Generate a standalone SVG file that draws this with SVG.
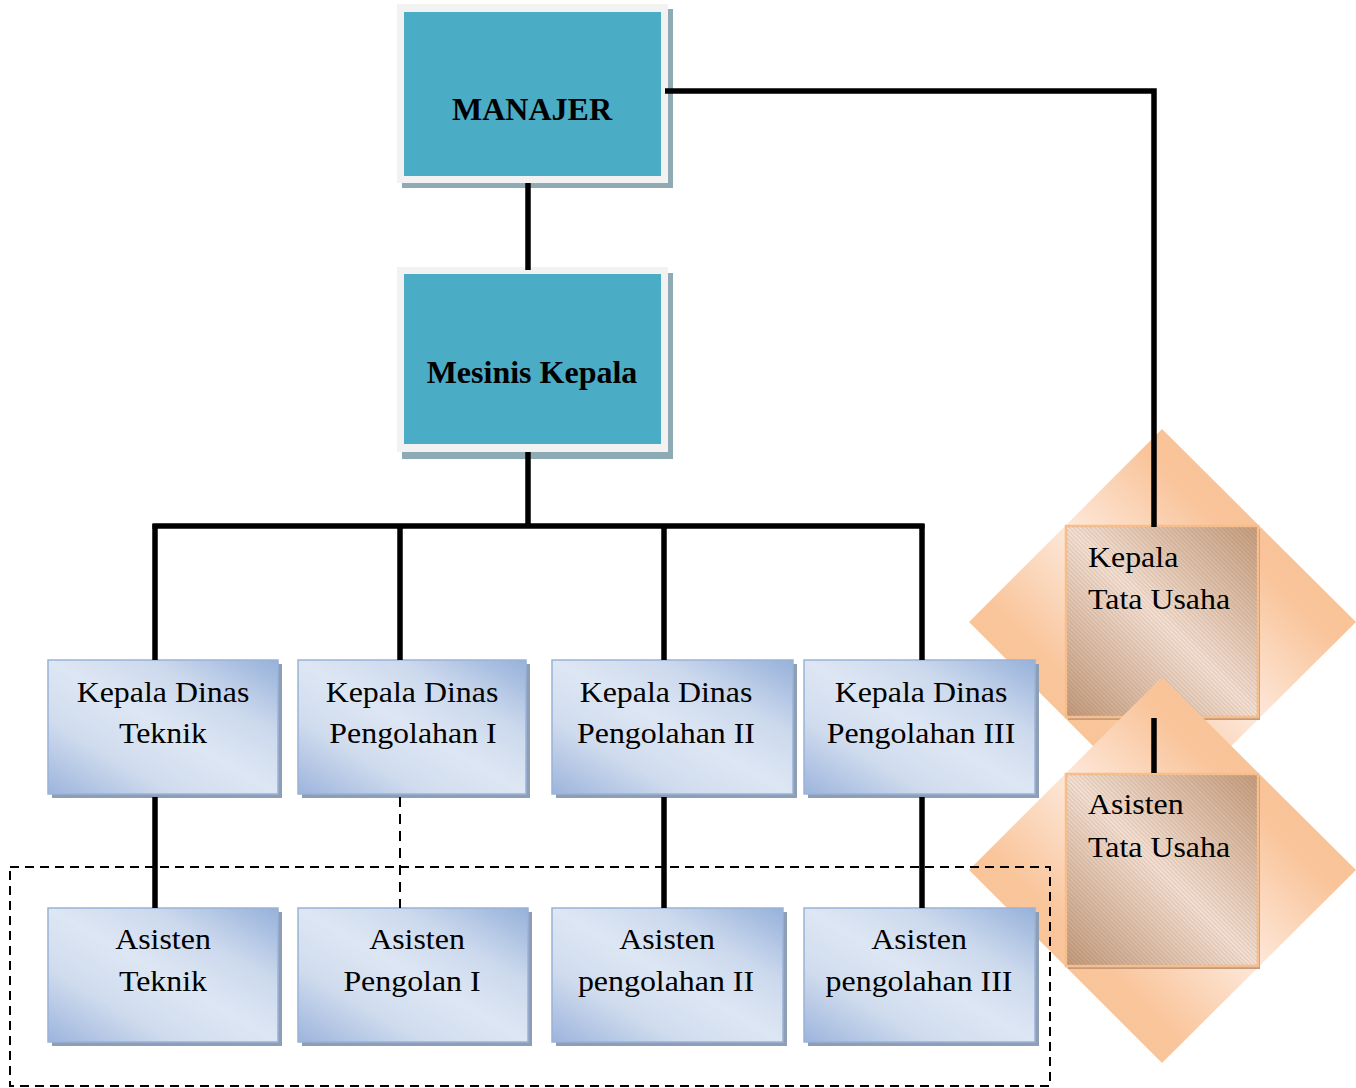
<svg xmlns="http://www.w3.org/2000/svg" width="1356" height="1088" viewBox="0 0 1356 1088">
<style>
.t{font-family:"Liberation Serif","Times New Roman",serif;font-size:29px;fill:#000}
.c{text-anchor:middle}
.b{font-family:"Liberation Serif","Times New Roman",serif;font-size:32px;font-weight:bold;text-anchor:middle;fill:#000}
.frame{fill:#f2f2f2}
.tealsh{fill:#8eabb5}
.teal{fill:#4bacc6}
.bsh{fill:#8e9eb5}
.box{fill:url(#blue);stroke:#9ab3d8;stroke-width:1.5}
.dia{fill:url(#peach)}
.sqsh{fill:#c59b7c}
.sq{fill:url(#tan);stroke:#f7be8d;stroke-width:2.5}
.hatch{fill:url(#lines)}
.ln{stroke:#000;stroke-width:5.5;fill:none}
.dash{stroke:#000;stroke-width:2;fill:none;stroke-dasharray:9 6}
</style>
<defs>
<linearGradient id="blue" x1="0" y1="1" x2="1" y2="0">
<stop offset="0" stop-color="#9cb4dc"/>
<stop offset="0.28" stop-color="#d0dcee"/>
<stop offset="0.5" stop-color="#dde6f3"/>
<stop offset="0.72" stop-color="#ccd9ed"/>
<stop offset="1" stop-color="#96b1da"/>
</linearGradient>
<linearGradient id="peach" x1="1" y1="0" x2="0" y2="1">
<stop offset="0" stop-color="#f8bf8c"/>
<stop offset="0.3" stop-color="#f9c49a"/>
<stop offset="0.5" stop-color="#fde8da"/>
<stop offset="0.7" stop-color="#f9c59b"/>
<stop offset="1" stop-color="#f8bf8c"/>
</linearGradient>
<linearGradient id="tan" x1="1" y1="0" x2="0" y2="1">
<stop offset="0" stop-color="#c9a07f"/>
<stop offset="0.5" stop-color="#fbe7da"/>
<stop offset="1" stop-color="#c69d7d"/>
</linearGradient>
<pattern id="lines" patternUnits="userSpaceOnUse" width="3" height="3" patternTransform="rotate(45)">
<line x1="0" y1="1" x2="3" y2="1" stroke="#6e4f3c" stroke-width="0.6" stroke-opacity="0.5"/>
</pattern>
</defs>

<g id="kepala-tata-usaha">
<polygon class="dia" points="1162,429 1356,622 1162,815 969,622"/>
<rect class="sqsh" x="1068" y="529" width="192" height="191"/>
<rect class="sq" x="1066" y="526" width="192" height="191"/>
<rect class="hatch" x="1067" y="527" width="190" height="189"/>
<text class="t" transform="translate(1088 567) scale(1.1 1)">Kepala</text>
<text class="t" transform="translate(1088 609) scale(1.1 1)">Tata Usaha</text>
</g>
<g id="asisten-tata-usaha">
<polygon class="dia" points="1162,677 1356,870 1162,1063 969,870"/>
<rect class="sqsh" x="1068" y="777" width="192" height="192"/>
<rect class="sq" x="1066" y="774" width="192" height="192"/>
<rect class="hatch" x="1067" y="775" width="190" height="190"/>
<text class="t" transform="translate(1088 814) scale(1.1 1)">Asisten</text>
<text class="t" transform="translate(1088 857) scale(1.1 1)">Tata Usaha</text>
</g>

<g id="manajer">
<rect class="tealsh" x="402" y="9" width="271" height="179"/>
<rect class="frame" x="397" y="4" width="271" height="179"/>
<rect class="teal" x="404" y="12" width="257" height="164"/>
<text class="b" x="532" y="120">MANAJER</text>
</g>
<g id="mesinis-kepala">
<rect class="tealsh" x="402" y="273" width="271" height="186"/>
<rect class="frame" x="397" y="267" width="271" height="185"/>
<rect class="teal" x="404" y="274" width="257" height="170"/>
<text class="b" x="532" y="383">Mesinis Kepala</text>
</g>

<g id="kepala-dinas-teknik">
<rect class="bsh" x="52" y="664" width="230" height="134"/>
<rect class="box" x="48" y="660" width="230" height="134"/>
<text class="t c" transform="translate(163 702) scale(1.1 1)">Kepala Dinas</text>
<text class="t c" transform="translate(163 743) scale(1.1 1)">Teknik</text>
</g>
<g id="kepala-dinas-pengolahan-1">
<rect class="bsh" x="302" y="664" width="228" height="134"/>
<rect class="box" x="298" y="660" width="228" height="134"/>
<text class="t c" transform="translate(412 702) scale(1.1 1)">Kepala Dinas</text>
<text class="t c" transform="translate(413 743) scale(1.1 1)">Pengolahan I</text>
</g>
<g id="kepala-dinas-pengolahan-2">
<rect class="bsh" x="556" y="664" width="241" height="134"/>
<rect class="box" x="552" y="660" width="241" height="134"/>
<text class="t c" transform="translate(666 702) scale(1.1 1)">Kepala Dinas</text>
<text class="t c" transform="translate(666 743) scale(1.1 1)">Pengolahan II</text>
</g>
<g id="kepala-dinas-pengolahan-3">
<rect class="bsh" x="808" y="664" width="231" height="134"/>
<rect class="box" x="804" y="660" width="231" height="134"/>
<text class="t c" transform="translate(921 702) scale(1.1 1)">Kepala Dinas</text>
<text class="t c" transform="translate(921 743) scale(1.1 1)">Pengolahan III</text>
</g>

<g id="asisten-teknik">
<rect class="bsh" x="52" y="912" width="230" height="134"/>
<rect class="box" x="48" y="908" width="230" height="134"/>
<text class="t c" transform="translate(163 949) scale(1.1 1)">Asisten</text>
<text class="t c" transform="translate(163 991) scale(1.1 1)">Teknik</text>
</g>
<g id="asisten-pengolan-1">
<rect class="bsh" x="302" y="912" width="230" height="134"/>
<rect class="box" x="298" y="908" width="230" height="134"/>
<text class="t c" transform="translate(417 949) scale(1.1 1)">Asisten</text>
<text class="t c" transform="translate(412 991) scale(1.1 1)">Pengolan I</text>
</g>
<g id="asisten-pengolahan-2">
<rect class="bsh" x="556" y="912" width="231" height="134"/>
<rect class="box" x="552" y="908" width="231" height="134"/>
<text class="t c" transform="translate(667 949) scale(1.1 1)">Asisten</text>
<text class="t c" transform="translate(666 991) scale(1.1 1)">pengolahan II</text>
</g>
<g id="asisten-pengolahan-3">
<rect class="bsh" x="808" y="912" width="231" height="134"/>
<rect class="box" x="804" y="908" width="231" height="134"/>
<text class="t c" transform="translate(919 949) scale(1.1 1)">Asisten</text>
<text class="t c" transform="translate(919 991) scale(1.1 1)">pengolahan III</text>
</g>

<g id="connectors">
<polyline class="ln" points="665,91 1154,91 1154,527"/>
<line class="ln" x1="528" y1="183" x2="528" y2="270"/>
<line class="ln" x1="528" y1="452" x2="528" y2="526"/>
<line class="ln" x1="152.5" y1="526" x2="924.5" y2="526"/>
<line class="ln" x1="155" y1="524" x2="155" y2="660"/>
<line class="ln" x1="400" y1="524" x2="400" y2="660"/>
<line class="ln" x1="664" y1="524" x2="664" y2="660"/>
<line class="ln" x1="922" y1="524" x2="922" y2="660"/>
<line class="ln" x1="155" y1="797" x2="155" y2="908"/>
<line class="dash" x1="400" y1="797" x2="400" y2="908" style="stroke-dasharray:10 7"/>
<line class="ln" x1="664" y1="797" x2="664" y2="908"/>
<line class="ln" x1="922" y1="797" x2="922" y2="908"/>
<line class="ln" x1="1154" y1="718" x2="1154" y2="773"/>
<rect class="dash" x="10" y="867" width="1040" height="219"/>
</g>
</svg>
